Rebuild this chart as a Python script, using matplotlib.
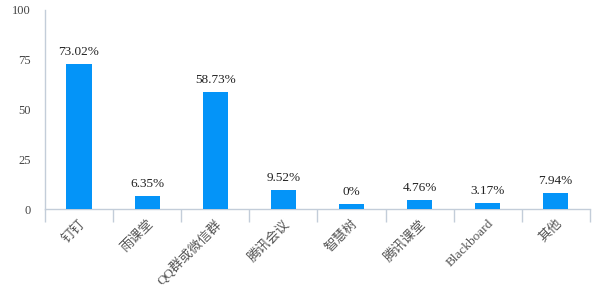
import matplotlib
matplotlib.use("Agg")
import matplotlib.pyplot as plt
import numpy as np

categories = ["钉钉", "雨课堂", "QQ群或微信群", "腾讯会议", "智慧树", "腾讯课堂", "Blackboard", "其他"]
bar_values = [73.02, 6.35, 58.73, 9.52, 2.6, 4.76, 3.17, 7.94]
value_labels = ["73.02%", "6.35%", "58.73%", "9.52%", "0%", "4.76%", "3.17%", "7.94%"]
y_ticks = [0, 25, 50, 75, 100]

axis_color = "#C3CDD9"
bar_color = "#0494F8"

fig = plt.figure(figsize=(6, 3), dpi=100)
ax = fig.add_axes([0.075, 0.303, 0.908, 0.664])

x = np.arange(len(categories))
ax.bar(x, bar_values, width=0.37, color=bar_color, zorder=3)

for xi, v, lab in zip(x, bar_values, value_labels):
    ax.text(xi, v + 3.0, lab, ha="center", va="bottom", fontsize=9.5,
            family="Liberation Serif", color="#222222")

ax.set_xlim(-0.5, len(categories) - 0.5)
ax.set_ylim(0, 100)
ax.set_yticks(y_ticks)
ax.set_yticklabels([str(t) for t in y_ticks], family="Liberation Serif", fontsize=9, color="#444444")
ax.tick_params(axis="y", length=0, pad=10)

ax.set_xticks(np.arange(len(categories) + 1) - 0.5)
ax.set_xticklabels([])
ax.tick_params(axis="x", which="major", length=9, color=axis_color, width=1)
ax.set_xticks(x, minor=True)
ax.set_xticklabels(categories, minor=True, rotation=45, ha="right", rotation_mode="anchor",
                   fontsize=9.5, color="#555555",
                   family=["Liberation Serif", "Noto Sans CJK SC"])
ax.tick_params(axis="x", which="minor", length=0, pad=6)

for s in ["top", "right"]:
    ax.spines[s].set_visible(False)
for s in ["left", "bottom"]:
    ax.spines[s].set_color(axis_color)
    ax.spines[s].set_linewidth(1)

fig.savefig("out.png", dpi=100, facecolor="white")
